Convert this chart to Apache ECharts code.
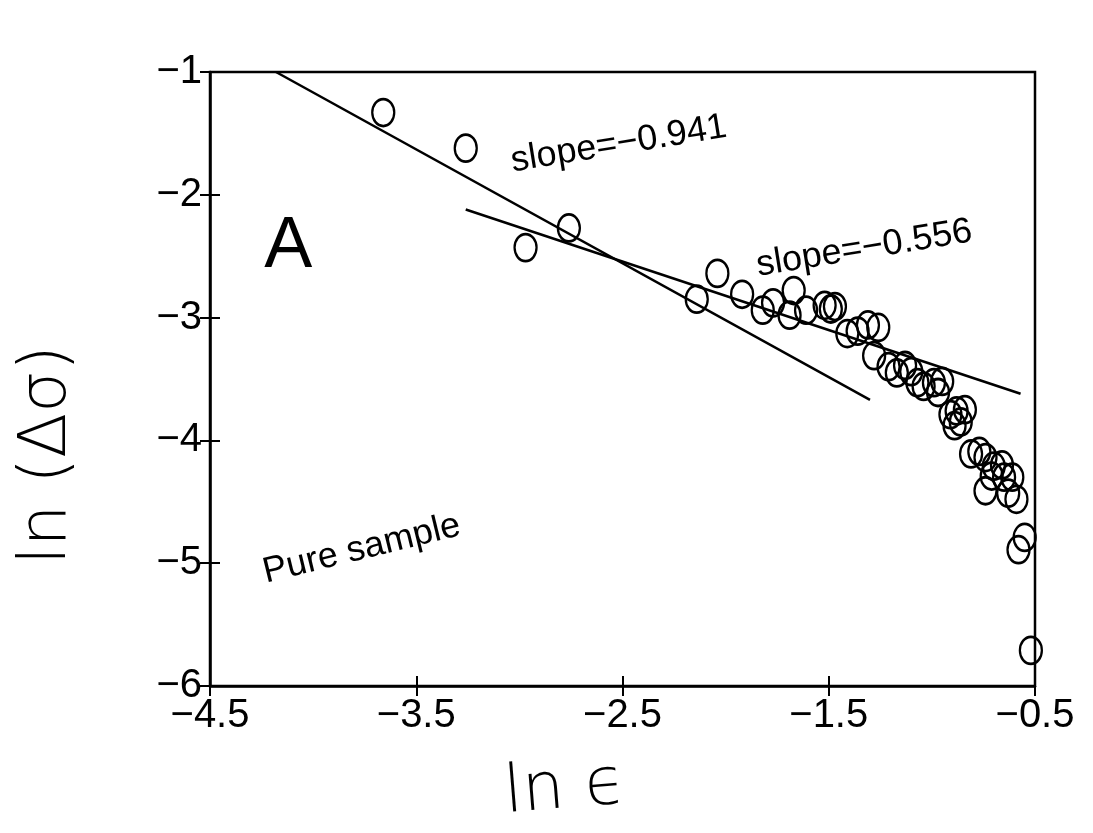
<!DOCTYPE html>
<html><head><meta charset="utf-8">
<script src="https://cdn.jsdelivr.net/npm/echarts@6/dist/echarts.min.js"></script>
<style>html,body{margin:0;padding:0;background:#fff}#c{width:1093px;height:833px}</style>
</head><body><div id="c"></div>
<script>
// ---- data ----
const xTicks = [-4.5, -3.5, -2.5, -1.5, -0.5];
const yTicks = [-6, -5, -4, -3, -2, -1];
const lnEps = [-3.66,-3.26,-2.76,-2.97,-2.04,-2.14,-1.92,-1.82,-1.77,-1.67,-1.69,-1.61,-1.52,-1.49,-1.47,
  -1.41,-1.36,-1.31,-1.26,-1.28,-1.21,-1.17,-1.13,-1.10,-1.07,-1.04,-0.99,-0.95,-0.97,
  -0.91,-0.88,-0.84,-0.86,-0.89,-0.81,-0.77,-0.74,-0.70,-0.66,-0.71,-0.65,-0.61,-0.74,-0.63,-0.59,
  -0.55,-0.58,-0.52];
const lnDSigma = [-1.33,-1.62,-2.27,-2.43,-2.64,-2.85,-2.81,-2.94,-2.88,-2.78,-2.98,-2.94,-2.90,-2.93,-2.91,
  -3.13,-3.11,-3.06,-3.08,-3.31,-3.40,-3.45,-3.39,-3.44,-3.53,-3.56,-3.53,-3.52,-3.61,
  -3.79,-3.76,-3.75,-3.85,-3.88,-4.11,-4.09,-4.14,-4.21,-4.20,-4.29,-4.30,-4.30,-4.41,-4.43,-4.48,
  -4.79,-4.89,-5.71];
const fit1X = [-4.18, -1.30];
const fit1Y = [-1.00, -3.67];
const fit2X = [-3.26, -0.57];
const fit2Y = [-2.12, -3.62];
const noteText = ['slope=\u22120.941', 'slope=\u22120.556', 'A', 'Pure sample'];
const noteX = [-3.04, -1.85, -4.12, -4.24];
const noteY = [-1.73, -2.58, -2.43, -5.08];
const xName = 'ln \u03F5';
const yName = 'ln (\u0394\u03C3)';

// ---- chart ----
const FONT = "'Liberation Sans', 'DejaVu Sans', sans-serif";
const THIN = "'DejaVu Sans', 'Liberation Sans', sans-serif";
const fmt = v => String(v).replace('-', '\u2212');
const chart = echarts.init(document.getElementById('c'));
const pts = lnEps.map((x, i) => [x, lnDSigma[i]]);
const axisLine = {show: true, onZero: false, lineStyle: {color: '#000', width: 2.5}};
const option = {
  backgroundColor: '#fff',
  animation: false,
  grid: {left: 210, right: 58, top: 72, bottom: 147, show: true, borderColor: '#000', borderWidth: 2.5, backgroundColor: 'transparent'},
  xAxis: [{
    type: 'value', min: xTicks[0], max: xTicks[xTicks.length - 1], interval: 1,
    axisLine, splitLine: {show: false},
    axisTick: {show: true, inside: false, length: 10, lineStyle: {color: '#000', width: 2}},
    axisLabel: {formatter: fmt, color: '#000', fontSize: 40, fontFamily: FONT, margin: 10}
  }, {
    type: 'value', min: xTicks[0], max: xTicks[xTicks.length - 1], interval: 1, position: 'bottom',
    axisLine: {show: false}, splitLine: {show: false}, axisLabel: {show: false},
    axisTick: {show: true, inside: true, length: 10, lineStyle: {color: '#000', width: 2}}
  }],
  yAxis: [{
    type: 'value', min: yTicks[0], max: yTicks[yTicks.length - 1], interval: 1,
    axisLine, splitLine: {show: false},
    axisTick: {show: true, inside: false, length: 10, lineStyle: {color: '#000', width: 2}},
    axisLabel: {formatter: fmt, color: '#000', fontSize: 40, fontFamily: FONT, margin: 8}
  }, {
    type: 'value', min: yTicks[0], max: yTicks[yTicks.length - 1], interval: 1, position: 'left',
    axisLine: {show: false}, splitLine: {show: false}, axisLabel: {show: false},
    axisTick: {show: true, inside: true, length: 10, lineStyle: {color: '#000', width: 2}}
  }],
  series: [
    {type: 'line', data: fit1X.map((x, i) => [x, fit1Y[i]]), symbol: 'none', lineStyle: {color: '#000', width: 2.5}, z: 2},
    {type: 'line', data: fit2X.map((x, i) => [x, fit2Y[i]]), symbol: 'none', lineStyle: {color: '#000', width: 2.5}, z: 2},
    {type: 'scatter', data: pts, symbol: 'circle', symbolSize: [22, 27],
     itemStyle: {color: 'rgba(0,0,0,0)', borderColor: '#000', borderWidth: 2.5, opacity: 1}, z: 3}
  ]
};
chart.setOption(option);
const rot = [0.16, 0.16, 0, 0.24];
const sizes = [36, 36, 72, 36];
const g = noteText.map((t, i) => {
  const p = chart.convertToPixel({gridIndex: 0}, [noteX[i], noteY[i]]);
  return {type: 'text', x: p[0], y: p[1], rotation: rot[i], z: 10,
    style: {text: t, font: `${sizes[i]}px ${FONT}`, fill: '#000',
      textAlign: i === 2 ? 'center' : 'left', textVerticalAlign: 'middle'}};
});
// axis titles
g.push({type: 'text', x: 565, y: 790, rotation: 0.08, z: 10,
  style: {text: xName, font: `200 66px ${THIN}`, fill: '#000', textAlign: 'center', textVerticalAlign: 'middle'}});
g.push({type: 'text', x: 48, y: 455, rotation: Math.PI / 2, z: 10,
  style: {text: yName, font: `200 66px ${THIN}`, fill: '#000', textAlign: 'center', textVerticalAlign: 'middle'}});
chart.setOption({graphic: g});
</script></body></html>
